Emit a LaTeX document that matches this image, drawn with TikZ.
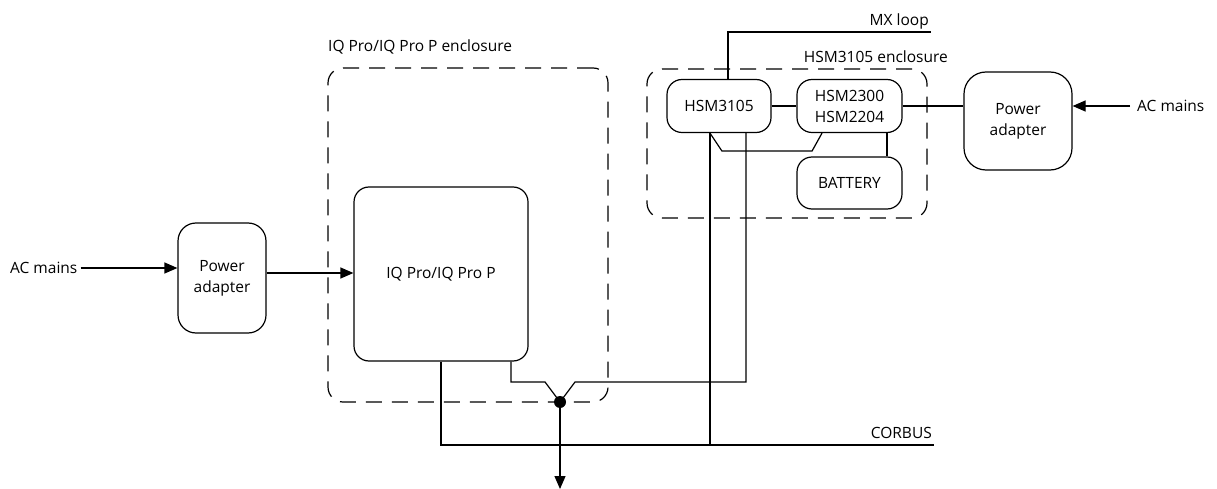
\documentclass[tikz,border=0pt]{standalone}
\usepackage{fontspec}
\setmainfont{Open Sans}
\usetikzlibrary{arrows.meta}
\begin{document}
\begin{tikzpicture}[x=1pt,y=-1pt,
  txt/.style={font=\fontsize{15.5}{21}\selectfont},
  box/.style={draw, line width=1.2pt, rounded corners=15pt, inner sep=0pt, align=center, txt},
  encl/.style={draw, line width=1.2pt, rounded corners=15pt, dash pattern=on 16pt off 10pt, inner sep=0pt},
  lbl/.style={inner sep=0pt, txt},
  wire/.style={line width=1.2pt},
  arr/.style={wire, -{Triangle[length=13pt,width=11pt]}},
  jdot/.style={circle, fill=black, inner sep=0pt, minimum size=12pt}]
\useasboundingbox (0,0) rectangle (1217,489);
% enclosures
\node[encl, minimum width=280pt, minimum height=334pt] (encIQ) at (468,235) {};
\node[encl, minimum width=280pt, minimum height=149pt] (encH) at (787,143.5) {};
% boxes
\node[box, minimum width=174pt, minimum height=174pt] (iq) at (441,274) {IQ Pro/IQ Pro P};
\node[box, minimum width=88pt, minimum height=110pt, rounded corners=18pt] (pa1) at (222,278) {Power\\adapter};
\node[box, minimum width=108pt, minimum height=98pt, rounded corners=22pt] (pa2) at (1018,121) {Power\\adapter};
\node[box, minimum width=104pt, minimum height=53pt] (h3105) at (719,106) {HSM3105};
\node[box, minimum width=105pt, minimum height=53pt] (h2300) at (849.5,106) {HSM2300\\HSM2204};
\node[box, minimum width=105pt, minimum height=52pt] (bat) at (849.5,183) {BATTERY};
% labels
\node[lbl, anchor=west] (lIQ) at (328,47) {IQ Pro/IQ Pro P enclosure};
\node[lbl, anchor=east] (lH) at (948,57) {HSM3105 enclosure};
\node[lbl, anchor=east] (lMX) at (929,21) {MX loop};
\node[lbl, anchor=east] (lCB) at (932,433) {CORBUS};
\node[lbl, anchor=west] (ac1) at (10,268) {AC mains};
\node[lbl, anchor=west] (ac2) at (1137,106) {AC mains};
% junction
\node[jdot] (j) at (560,402) {};
\coordinate (mxend) at (931,32);
\coordinate (cbend) at (934,445);
\coordinate (ja) at (575,382);
\coordinate (jb) at (545,382);
\coordinate (down) at (560,489);
% connectors
\draw[arr] ([xshift=3pt]ac1.east) -- (pa1.west |- ac1.east);
\draw[arr] ([yshift=5pt]pa1.east) -- (iq.west |- 0,273);
\draw[arr] ([xshift=-7pt]ac2.west) -- (pa2.east |- ac2.west);
\draw[wire] (h2300.east) -- (pa2.west |- h2300.east);
\draw[wire] (h3105.east) -- (h2300.west);
\draw[wire] ([xshift=37.5pt]h2300.south) -- ([xshift=37.5pt]bat.north);
\draw[wire] ([xshift=9pt]h3105.north) |- (mxend);
\draw[wire] ([xshift=-9pt]h3105.south) -- ([xshift=-9pt]h3105.south |- cbend);
\draw[wire] ([xshift=-9pt]h3105.south) -- ++(12,18) -- ([xshift=-37.5pt,yshift=-18pt]h2300.south) -- ([xshift=-27.5pt]h2300.south);
\draw[wire] ([xshift=27pt]h3105.south) |- (ja) -- (j.center) -- (jb) -| ([xshift=70pt]iq.south);
\draw[wire] (iq.south) |- (cbend);
\draw[arr] (j.center) -- (down);
\end{tikzpicture}
\end{document}
